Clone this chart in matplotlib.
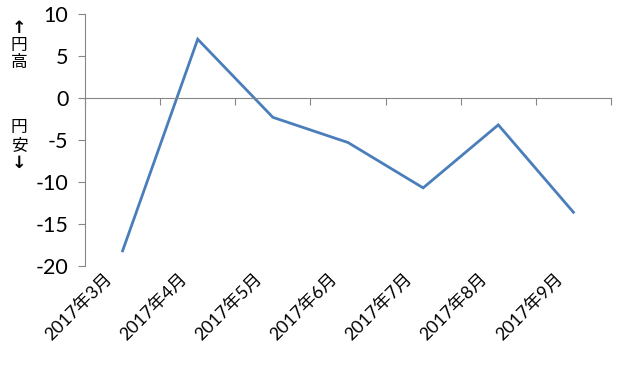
import matplotlib.pyplot as plt
import matplotlib.transforms as mtransforms
import numpy as np

plt.rcParams['font.family'] = ['Lato', 'Noto Sans CJK JP', 'DejaVu Sans']

months = ["2017年3月", "2017年4月", "2017年5月", "2017年6月",
          "2017年7月", "2017年8月", "2017年9月"]
values = [-18.2, 7.0, -2.3, -5.3, -10.7, -3.2, -13.6]
yticks = [-20, -15, -10, -5, 0, 5, 10]
side_up = ["↑", "円", "高"]
side_down = ["円", "安", "↓"]

axis_grey = "#868686"
line_blue = "#4A7EBB"

fig = plt.figure(figsize=(6.23, 3.66), dpi=100)
ax = fig.add_axes([85 / 623, 1 - 266 / 366, (611 - 85) / 623, (266 - 14) / 366])

x = np.arange(len(months)) + 0.5
ax.plot(x, values, color=line_blue, linewidth=2.0, solid_joinstyle="miter")

ax.set_xlim(0, len(months))
ax.set_ylim(-20, 10)
ax.set_yticks(yticks)
ax.set_yticklabels([str(v) for v in yticks], fontsize=15.5)

# x axis line sits at zero, ticks at category boundaries
ax.spines["bottom"].set_position(("data", 0))
ax.spines["bottom"].set_color(axis_grey)
ax.spines["left"].set_color(axis_grey)
ax.spines["top"].set_visible(False)
ax.spines["right"].set_visible(False)
ax.set_xticks(np.arange(len(months) + 1))
ax.set_xticklabels([])
ax.tick_params(axis="x", direction="out", length=5, color=axis_grey)
ax.tick_params(axis="y", direction="out", length=5, color=axis_grey, pad=7)

# category labels below the plot
trans = mtransforms.blended_transform_factory(ax.transData, ax.transAxes)
for xi, label in zip(x, months):
    ax.text(xi - 0.18, -0.04, label, transform=trans, rotation=45,
            ha="right", va="center", rotation_mode="anchor", fontsize=12.8,
            family=['Lato', 'Noto Sans CJK JP'])

# side labels, one character per row
for chars, top in ((side_up, 28), (side_down, 128)):
    for i, ch in enumerate(chars):
        if ch in "↑↓":
            fig.text(19 / 623, 1 - (top + 17.5 * i) / 366, ch, ha="center", va="center",
                     fontsize=12.5, fontweight="bold", family="DejaVu Sans")
        else:
            fig.text(19 / 623, 1 - (top + 17.5 * i) / 366, ch, ha="center", va="center",
                     fontsize=12, family=['Noto Sans CJK JP', 'DejaVu Sans'])

fig.savefig("out.png", dpi=100)
